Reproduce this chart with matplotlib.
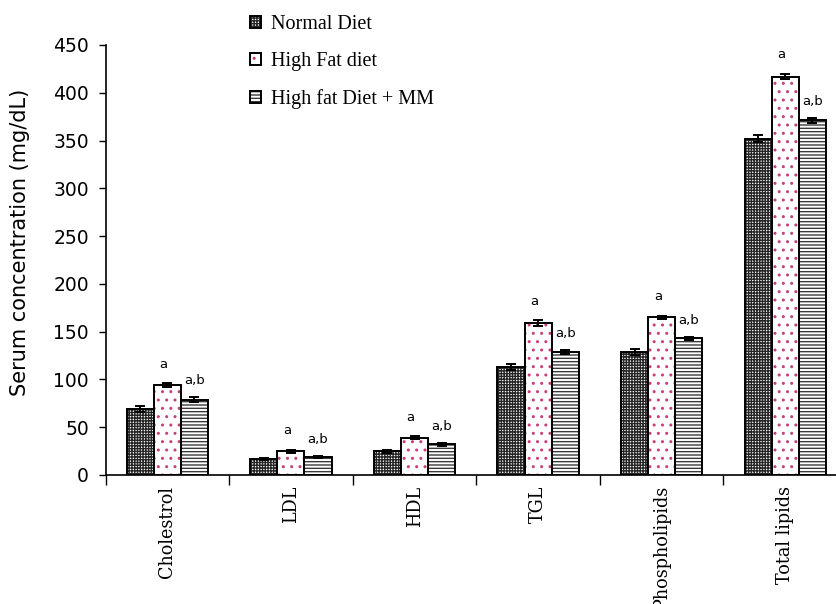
import matplotlib
matplotlib.use("Agg")
import matplotlib.pyplot as plt
import numpy as np

categories = ["Cholestrol", "LDL", "HDL", "TGL", "Phospholipids", "Total lipids"]
series_names = ["Normal Diet", "High Fat diet", "High fat Diet + MM"]
normal = [69, 17, 25, 113, 129, 352]
normal_err = [3, 1, 1.5, 3, 3, 4]
high_fat = [94, 25, 39, 159, 165, 417]
high_fat_err = [2, 1.5, 1.5, 3, 1.5, 3]
high_fat_mm = [79, 19, 32, 129, 143, 371]
high_fat_mm_err = [3, 1, 1.5, 2, 1.5, 3]
hf_marks = ["a"] * 6
mm_marks = ["a,b"] * 6
yticks = [0, 50, 100, 150, 200, 250, 300, 350, 400, 450]

plt.rcParams['hatch.linewidth'] = 1.0

W, H = 836, 604
fig = plt.figure(figsize=(W / 100, H / 100), dpi=100)
ax = fig.add_axes([105.6 / W, 1 - 475 / H, (847 - 105.6) / W, (475 - 45) / H])

x = np.arange(len(categories)) + 0.5
bw = 0.219
styles = [
    dict(hatch="++++++", hc="#262626"),
    dict(hatch="..", hc="#c8407a"),
    dict(hatch="-----", hc="#3a3a3a"),
]
vals = [normal, high_fat, high_fat_mm]
errs = [normal_err, high_fat_err, high_fat_mm_err]
handles = []
for i, (v, e, st) in enumerate(zip(vals, errs, styles)):
    pos = x + (i - 1) * bw
    b1 = ax.bar(pos, v, width=bw, color="white", edgecolor=st["hc"],
                hatch=st["hatch"], linewidth=0, zorder=2)
    b2 = ax.bar(pos, v, width=bw, fill=False, edgecolor="black",
                linewidth=1.4, zorder=3)
    ax.errorbar(pos, v, yerr=e, fmt="none", ecolor="black", elinewidth=1.4,
                capsize=3.5, capthick=1.4, zorder=4)
    handles.append((b1, b2))

for xi, v, e, m in zip(x, high_fat, high_fat_err, hf_marks):
    ax.annotate(m, (xi - 0.03, v + e), xytext=(0, 9), textcoords="offset points",
                ha="center", va="bottom", fontsize=9.5, family="DejaVu Sans")
for xi, v, e, m in zip(x + bw, high_fat_mm, high_fat_mm_err, mm_marks):
    ax.annotate(m, (xi, v + e), xytext=(0, 7), textcoords="offset points",
                ha="center", va="bottom", fontsize=9.5, family="DejaVu Sans")

ax.set_xlim(0, 6)
ax.set_ylim(0, 450)
ax.set_yticks(yticks)
ax.set_yticklabels([str(t) for t in yticks], fontsize=13.5, family="DejaVu Sans")
ax.tick_params(axis="y", direction="out", length=5, width=1, pad=7)
ax.set_xticks(np.arange(0, 7))
ax.set_xticklabels([])
ax.tick_params(axis="x", which="major", direction="out", length=7, width=1)
ax.set_xticks(x, minor=True)
ax.set_xticklabels(categories, minor=True, rotation=90, fontsize=12.7,
                   family="DejaVu Serif", va="top", ha="center")
ax.tick_params(axis="x", which="minor", length=0, pad=8)

for s in ["top", "right"]:
    ax.spines[s].set_visible(False)
ax.spines["left"].set_linewidth(1.2)
ax.spines["bottom"].set_linewidth(1.2)

fig.text(20 / W, 1 - 242 / H, "Serum concentration (mg/dL)", rotation=90,
         ha="center", va="center", fontsize=15, family="DejaVu Sans")

leg = ax.legend(handles, series_names, loc="upper left",
                bbox_to_anchor=(250 / W, 1 - 15 / H), bbox_transform=fig.transFigure,
                frameon=False, prop={"family": "Liberation Serif", "size": 14.5},
                handlelength=0.55, handleheight=0.55, handletextpad=0.5,
                labelspacing=0.9, borderpad=0, borderaxespad=0)

fig.savefig("out.png", dpi=100)
